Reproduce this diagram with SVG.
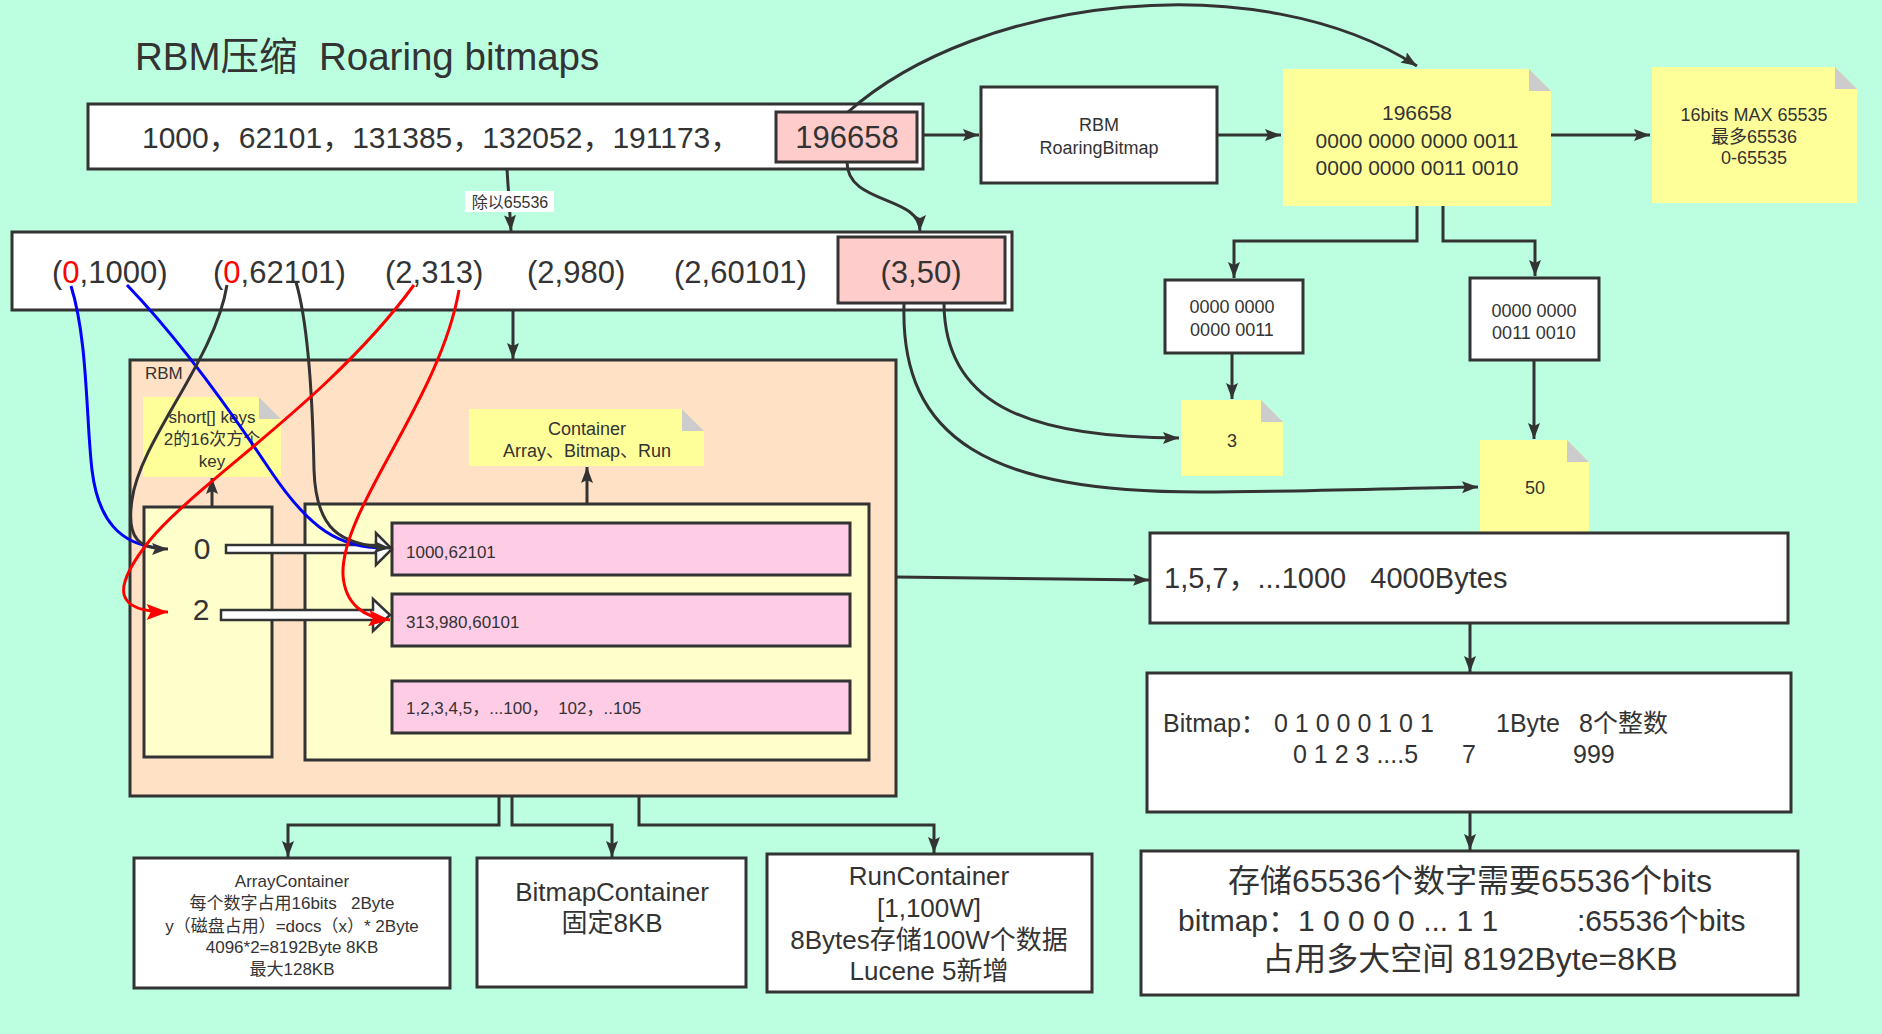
<svg xmlns="http://www.w3.org/2000/svg" width="1882" height="1034" viewBox="0 0 1882 1034">
<defs>
<style>
.t{font-family:'Liberation Sans','Noto Sans CJK SC',sans-serif;fill:#333;white-space:pre}
.m{text-anchor:middle}
.box{fill:#fff;stroke:#333;stroke-width:3}
.pink{fill:#FFCCCC;stroke:#333;stroke-width:3}
.row{fill:#FFCCE6;stroke:#333;stroke-width:3}
.pale{fill:#FFFFCC;stroke:#333;stroke-width:3}
.note{fill:#FFFF99}
.fold{fill:#CCCCCC}
.ln{fill:none;stroke:#333;stroke-width:3}
.blk{fill:#fff;stroke:#333;stroke-width:2.5}
</style>
<marker id="ah" viewBox="0 0 16 12" refX="16" refY="6" markerWidth="16" markerHeight="12" markerUnits="userSpaceOnUse" orient="auto"><path d="M0,0 L16,6 L0,12 L3,6 z" fill="#333"/></marker>
<marker id="ahr" viewBox="0 0 16 12" refX="16" refY="6" markerWidth="22" markerHeight="16" markerUnits="userSpaceOnUse" orient="auto"><path d="M0,0 L16,6 L0,12 L3,6 z" fill="#f00"/></marker>
</defs>
<rect width="1882" height="1034" fill="#BBFFE0"/>
<text class="t" x="135" y="70" font-size="38.5">RBM压缩  Roaring bitmaps</text>

<g id="numbers">
<rect class="box" x="88" y="104" width="835" height="65"/>
<text class="t" x="142" y="148" font-size="30">1000，62101，131385，132052，191173，</text>
</g>
<g id="n196658">
<rect class="pink" x="776" y="112" width="141" height="50"/>
<text class="t m" x="847" y="148" font-size="31">196658</text>
</g>
<g id="tuples">
<rect class="box" x="12" y="232" width="1000" height="78"/>
<text class="t" x="52" y="283" font-size="31">(<tspan fill="#f00">0</tspan>,1000)</text>
<text class="t" x="213" y="283" font-size="31">(<tspan fill="#f00">0</tspan>,62101)</text>
<text class="t" x="385" y="283" font-size="31">(2,313)</text>
<text class="t" x="527" y="283" font-size="31">(2,980)</text>
<text class="t" x="674" y="283" font-size="31">(2,60101)</text>
</g>
<g id="t350">
<rect class="pink" x="838" y="237" width="167" height="66"/>
<text class="t m" x="921" y="283" font-size="31">(3,50)</text>
</g>
<g id="rbmbox">
<rect class="box" x="981" y="87" width="236" height="96"/>
<text class="t m" x="1099" y="131" font-size="18">RBM</text>
<text class="t m" x="1099" y="154" font-size="18">RoaringBitmap</text>
</g>
<g id="note196658">
<polygon class="note" points="1283,69 1529,69 1551,91 1551,206 1283,206"/>
<polygon class="fold" points="1529,69 1529,91 1551,91"/>
<text class="t m" x="1417" y="120" font-size="21">196658</text>
<text class="t m" x="1417" y="148" font-size="21">0000 0000 0000 0011</text>
<text class="t m" x="1417" y="175" font-size="21">0000 0000 0011 0010</text>
</g>
<g id="note16bits">
<polygon class="note" points="1652,67 1835,67 1857,89 1857,203 1652,203"/>
<polygon class="fold" points="1835,67 1835,89 1857,89"/>
<text class="t m" x="1754" y="121" font-size="18">16bits MAX 65535</text>
<text class="t m" x="1754" y="143" font-size="18">最多65536</text>
<text class="t m" x="1754" y="164" font-size="18">0-65535</text>
</g>
<g id="hi16">
<rect class="box" x="1165" y="280" width="138" height="73"/>
<text class="t m" x="1232" y="313" font-size="18">0000 0000</text>
<text class="t m" x="1232" y="336" font-size="18">0000 0011</text>
</g>
<g id="lo16">
<rect class="box" x="1470" y="278" width="129" height="82"/>
<text class="t m" x="1534" y="317" font-size="18">0000 0000</text>
<text class="t m" x="1534" y="339" font-size="18">0011 0010</text>
</g>
<g id="note3">
<polygon class="note" points="1181,400 1261,400 1283,422 1283,476 1181,476"/>
<polygon class="fold" points="1261,400 1261,422 1283,422"/>
<text class="t m" x="1232" y="447" font-size="18">3</text>
</g>
<g id="note50">
<polygon class="note" points="1480,440 1567,440 1589,462 1589,532 1480,532"/>
<polygon class="fold" points="1567,440 1567,462 1589,462"/>
<text class="t m" x="1535" y="494" font-size="18">50</text>
</g>
<g id="rbm">
<rect x="130" y="360" width="766" height="436" fill="#FFE2C6" stroke="#333" stroke-width="3"/>
<text class="t" x="145" y="379" font-size="17">RBM</text>
</g>
<g id="notekeys">
<polygon class="note" points="143,397 259,397 281,419 281,477 143,477"/>
<polygon class="fold" points="259,397 259,419 281,419"/>
<text class="t m" x="212" y="423" font-size="17">short[] keys</text>
<text class="t m" x="212" y="445" font-size="17">2的16次方个</text>
<text class="t m" x="212" y="467" font-size="17">key</text>
</g>
<g id="notecontainer">
<polygon class="note" points="469,409 682,409 704,431 704,466 469,466"/>
<polygon class="fold" points="682,409 682,431 704,431"/>
<text class="t m" x="587" y="435" font-size="18">Container</text>
<text class="t m" x="587" y="457" font-size="18">Array、Bitmap、Run</text>
</g>
<g id="keys">
<rect class="pale" x="144" y="507" width="128" height="250"/>
<text class="t m" x="202" y="559" font-size="30">0</text>
<text class="t m" x="201" y="620" font-size="30">2</text>
</g>
<g id="containers">
<rect class="pale" x="305" y="504" width="564" height="256"/>
</g>
<g id="row1">
<rect class="row" x="392" y="523" width="458" height="52"/>
<text class="t" x="406" y="558" font-size="17">1000,62101</text>
</g>
<g id="row2">
<rect class="row" x="392" y="594" width="458" height="52"/>
<text class="t" x="406" y="628" font-size="17">313,980,60101</text>
</g>
<g id="row3">
<rect class="row" x="392" y="681" width="458" height="52"/>
<text class="t" x="406" y="714" font-size="17">1,2,3,4,5，...100，  102，..105</text>
</g>
<g id="list">
<rect class="box" x="1150" y="533" width="638" height="90"/>
<text class="t" x="1164" y="588" font-size="29">1,5,7，...1000   4000Bytes</text>
</g>
<g id="bitmap">
<rect class="box" x="1147" y="673" width="644" height="139"/>
<text class="t" y="732" font-size="25"><tspan x="1163">Bitmap：</tspan><tspan x="1274">0 1 0 0 0 1 0 1</tspan><tspan x="1496">1Byte</tspan><tspan x="1579">8个整数</tspan></text>
<text class="t" y="763" font-size="25"><tspan x="1293">0 1 2 3 ....5</tspan><tspan x="1462">7</tspan><tspan x="1573">999</tspan></text>
</g>
<g id="bits">
<rect class="box" x="1141" y="851" width="657" height="144"/>
<text class="t m" x="1470" y="892" font-size="32">存储65536个数字需要65536个bits</text>
<text class="t" y="931" font-size="30"><tspan x="1178">bitmap：1 0 0 0 0 ... 1 1</tspan><tspan x="1577">:65536个bits</tspan></text>
<text class="t m" x="1470" y="970" font-size="32">占用多大空间 8192Byte=8KB</text>
</g>
<g id="arraycontainer">
<rect class="box" x="134" y="858" width="316" height="130"/>
<text class="t m" x="292" y="887" font-size="17">ArrayContainer</text>
<text class="t m" x="292" y="909" font-size="17">每个数字占用16bits   2Byte</text>
<text class="t m" x="292" y="932" font-size="17">y（磁盘占用）=docs（x）* 2Byte</text>
<text class="t m" x="292" y="953" font-size="17">4096*2=8192Byte 8KB</text>
<text class="t m" x="292" y="975" font-size="17">最大128KB</text>
</g>
<g id="bitmapcontainer">
<rect class="box" x="477" y="858" width="269" height="129"/>
<text class="t m" x="612" y="901" font-size="26">BitmapContainer</text>
<text class="t m" x="612" y="932" font-size="26">固定8KB</text>
</g>
<g id="runcontainer">
<rect class="box" x="767" y="854" width="325" height="138"/>
<text class="t m" x="929" y="885" font-size="26">RunContainer</text>
<text class="t m" x="929" y="917" font-size="26">[1,100W]</text>
<text class="t m" x="929" y="949" font-size="26">8Bytes存储100W个数据</text>
<text class="t m" x="929" y="980" font-size="26">Lucene 5新增</text>
</g>

<g id="connectors">
<path class="ln" d="M923,135 L979,135" marker-end="url(#ah)"/>
<path class="ln" d="M1217,135 L1281,135" marker-end="url(#ah)"/>
<path class="ln" d="M1551,135 L1650,135" marker-end="url(#ah)"/>
<path class="ln" d="M1417,206 L1417,241 L1234,241 L1234,278" marker-end="url(#ah)"/>
<path class="ln" d="M1443,206 L1443,241 L1535,241 L1535,276" marker-end="url(#ah)"/>
<path class="ln" d="M1232,353 L1232,399" marker-end="url(#ah)"/>
<path class="ln" d="M1534,360 L1534,439" marker-end="url(#ah)"/>
<path class="ln" d="M847,162 C847,205 920,195 920,231" marker-end="url(#ah)"/>
<path class="ln" d="M848,112 C980,-5 1260,-35 1417,66" marker-end="url(#ah)"/>
<path class="ln" d="M507,169 L511,231" marker-end="url(#ah)"/>
<rect x="465" y="191" width="89" height="21" fill="#fff"/>
<text class="t m" x="510" y="208" font-size="16">除以65536</text>
<path class="ln" d="M513,311 L513,359" marker-end="url(#ah)"/>
<path class="ln" d="M944,304 C945,400 1020,438 1179,438" marker-end="url(#ah)"/>
<path class="ln" d="M904,304 C900,440 990,492 1200,492 C1300,492 1400,488 1478,487" marker-end="url(#ah)"/>
<path class="ln" d="M212,507 L212,478" marker-end="url(#ah)"/>
<path class="ln" d="M587,504 L587,467" marker-end="url(#ah)"/>
<path class="ln" d="M896,577 L1149,580" marker-end="url(#ah)"/>
<path class="ln" d="M1470,623 L1470,672" marker-end="url(#ah)"/>
<path class="ln" d="M1470,812 L1470,850" marker-end="url(#ah)"/>
<path class="ln" d="M499,796 L499,825 L288,825 L288,857" marker-end="url(#ah)"/>
<path class="ln" d="M512,796 L512,825 L612,825 L612,857" marker-end="url(#ah)"/>
<path class="ln" d="M639,796 L639,825 L934,825 L934,853" marker-end="url(#ah)"/>
<polygon class="blk" points="226,545 376,545 376,533 392,549 376,565 376,553 226,553"/>
<polygon class="blk" points="221,610 373,610 373,599 390,615 373,631 373,620 221,620"/>
<path d="M71,286 C88,340 86,420 92,470 C98,520 120,545 160,548" fill="none" stroke="#00f" stroke-width="3"/>
<path d="M127,285 C180,340 230,410 270,470 C310,530 340,548 385,548" fill="none" stroke="#00f" stroke-width="3"/>
<path class="ln" d="M227,285 C215,360 140,440 132,500 C126,540 140,549 168,549" marker-end="url(#ah)"/>
<path class="ln" d="M296,282 C310,330 313,420 314,470 C316,530 340,545 390,548" marker-end="url(#ah)"/>
<path d="M414,285 C330,400 200,480 150,540 C110,590 115,612 168,612" fill="none" stroke="#f00" stroke-width="3" marker-end="url(#ahr)"/>
<path d="M459,290 C440,400 340,510 343,575 C345,605 365,618 390,620" fill="none" stroke="#f00" stroke-width="3" marker-end="url(#ahr)"/>
</g>
</svg>
